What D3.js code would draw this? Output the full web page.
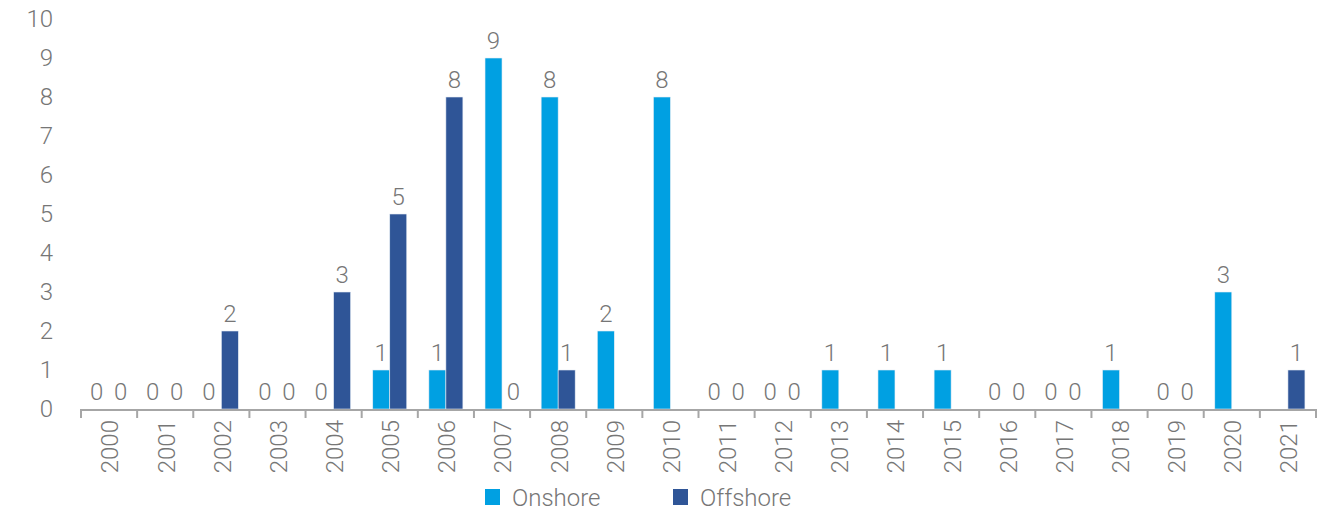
<!DOCTYPE html>
<html>
<head>
<meta charset="utf-8">
<script src="https://cdn.jsdelivr.net/npm/d3@7"></script>
<style>
  body { margin: 0; background: #fff; }
  text { font-family: Roboto, "Open Sans", sans-serif; font-weight: 300; fill: #767676; }
</style>
</head>
<body>
<div id="chart"></div>
<script>
// data (null = no bar, no label)
const years = ["2000","2001","2002","2003","2004","2005","2006","2007","2008","2009","2010",
  "2011","2012","2013","2014","2015","2016","2017","2018","2019","2020","2021"];
const onshore  = [0,0,0,0,0,1,1,9,8,2,8,0,0,1,1,1,0,0,1,0,3,null];
const offshore = [0,0,2,0,3,5,8,0,1,null,null,0,0,null,null,null,0,0,null,0,null,1];
const seriesNames = ["Onshore", "Offshore"];
const yTicks = [0,1,2,3,4,5,6,7,8,9,10];

const width = 1336, height = 512;
const margin = {top: 19, right: 20, bottom: 103, left: 81};
const fs = 24;

const svg = d3.select("#chart").append("svg")
  .attr("width", width)
  .attr("height", height);

const color = d3.scaleOrdinal()
  .domain(seriesNames)
  .range(["#00a0e2", "#2f5597"]);

const x = d3.scaleBand()
  .domain(years)
  .range([margin.left, width - margin.right]);

const x1 = d3.scaleBand()
  .domain(seriesNames)
  .range([0, x.bandwidth()])
  .paddingOuter(0.65)
  .paddingInner(0);

const y = d3.scaleLinear()
  .domain([0, 10])
  .range([height - margin.bottom, margin.top]);

const rows = years.map((yr, i) => ({
  year: yr,
  values: [
    {key: "Onshore", value: onshore[i]},
    {key: "Offshore", value: offshore[i]}
  ]
}));

// y tick labels, no axis line
svg.append("g")
  .selectAll("text")
  .data(yTicks)
  .join("text")
    .attr("x", 53)
    .attr("y", d => y(d))
    .attr("dy", "0.35em")
    .attr("text-anchor", "end")
    .attr("font-size", fs)
    .text(d => d);

// bars + labels
const groups = svg.append("g")
  .selectAll("g")
  .data(rows)
  .join("g")
    .attr("transform", d => `translate(${x(d.year)},0)`);

groups.selectAll("rect")
  .data(d => d.values.filter(v => v.value !== null && v.value > 0))
  .join("rect")
    .attr("x", d => x1(d.key))
    .attr("y", d => y(d.value))
    .attr("width", x1.bandwidth())
    .attr("height", d => y(0) - y(d.value))
    .attr("fill", d => color(d.key))
    .attr("stroke", "#e8eef6")
    .attr("stroke-width", 0.6);

// zero labels get pushed apart a little so they don't collide
const zeroShift = {Onshore: -4, Offshore: 3};
groups.selectAll("text")
  .data(d => d.values.filter(v => v.value !== null))
  .join("text")
    .attr("x", d => x1(d.key) + x1.bandwidth() / 2 + (d.value === 0 ? zeroShift[d.key] : 0))
    .attr("y", d => y(d.value) - 9)
    .attr("text-anchor", "middle")
    .attr("font-size", fs)
    .text(d => d.value);

// x axis: line + boundary ticks
const xAxis = svg.append("g");
const y0 = y(0);
xAxis.append("line")
  .attr("x1", margin.left).attr("x2", width - margin.right)
  .attr("y1", y0 + 1).attr("y2", y0 + 1)
  .attr("stroke", "#a6a6a6").attr("stroke-width", 2);
xAxis.selectAll(".tick")
  .data(years.concat(["end"]))
  .join("line")
    .attr("class", "tick")
    .attr("x1", d => d === "end" ? width - margin.right : x(d))
    .attr("x2", d => d === "end" ? width - margin.right : x(d))
    .attr("y1", y0)
    .attr("y2", y0 + 9)
    .attr("stroke", "#a6a6a6").attr("stroke-width", 2);

xAxis.selectAll(".lbl")
  .data(years)
  .join("text")
    .attr("class", "lbl")
    .attr("transform", d => `translate(${x(d) + x.bandwidth() / 2 + 1},${y0 + 11}) rotate(-90)`)
    .attr("text-anchor", "end")
    .attr("dy", "0.35em")
    .attr("font-size", fs)
    .text(d => d);

// legend
const legend = svg.append("g")
  .selectAll("g")
  .data(seriesNames)
  .join("g")
    .attr("transform", (d, i) => `translate(${485 + i * 188},489)`);
legend.append("rect")
  .attr("width", 15).attr("height", 16)
  .attr("fill", d => color(d));
legend.append("text")
  .attr("x", 27)
  .attr("y", 9)
  .attr("dy", "0.35em")
  .attr("font-size", fs)
  .text(d => d);
</script>
</body>
</html>
